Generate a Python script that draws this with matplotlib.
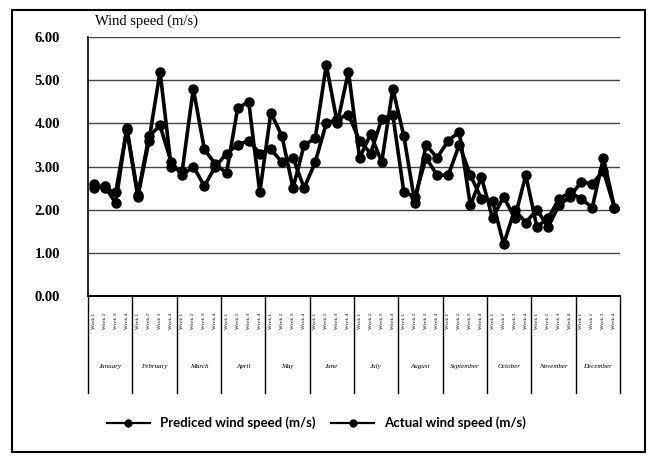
import matplotlib
matplotlib.use("Agg")
import matplotlib.pyplot as plt
import matplotlib.transforms as mtransforms
from matplotlib.patches import Rectangle
from matplotlib.lines import Line2D

months = ["January", "February", "March", "April", "May", "June", "July",
          "August", "September", "October", "November", "December"]
weeks = ["Week 1", "Week 2", "Week 3", "Week 4"]
week_labels = [w for m in months for w in weeks]

predicted = [2.6, 2.5, 2.4, 3.85, 2.3, 3.6, 5.2, 3.0, 2.9, 4.8, 3.4, 3.05,
             2.85, 4.35, 4.5, 2.4, 4.25, 3.7, 2.5, 3.5, 3.65, 5.35, 4.0, 5.2,
             3.2, 3.75, 3.1, 4.8, 3.7, 2.15, 3.5, 3.2, 3.6, 3.8, 2.1, 2.75,
             1.8, 2.3, 1.8, 2.8, 1.6, 1.8, 2.25, 2.4, 2.25, 2.05, 3.2, 2.05]
actual = [2.5, 2.55, 2.15, 3.9, 2.35, 3.7, 3.95, 3.1, 2.8, 3.0, 2.55, 3.0,
          3.3, 3.5, 3.6, 3.3, 3.4, 3.1, 3.2, 2.5, 3.1, 4.0, 4.1, 4.2,
          3.6, 3.3, 4.1, 4.2, 2.4, 2.3, 3.2, 2.8, 2.8, 3.5, 2.8, 2.25,
          2.2, 1.2, 2.0, 1.7, 2.0, 1.6, 2.1, 2.3, 2.65, 2.6, 2.9, 2.05]
yticks = [0, 1, 2, 3, 4, 5, 6]
series_names = ["Prediced wind speed (m/s)", "Actual wind speed (m/s)"]

W, H = 653, 457
fig = plt.figure(figsize=(W / 100, H / 100), dpi=100)
ax = fig.add_axes([88 / W, 1 - 296 / H, (620 - 88) / W, (296 - 37) / H])

x = list(range(len(week_labels)))
ax.plot(x, predicted, color="black", lw=2.6, marker="o", ms=6.5, zorder=4)
ax.plot(x, actual, color="black", lw=2.6, marker="o", ms=6.5, zorder=3)

ax.set_xlim(-0.5, len(week_labels) - 0.5)
ax.set_ylim(0, 6)
ax.set_yticks(yticks)
ax.set_yticklabels([f"{v:.2f}" for v in yticks],
                   family="Liberation Serif", fontweight="bold", fontsize=10.5)
ax.tick_params(axis="y", length=0, pad=20)
ax.grid(axis="y", color="#444444", lw=1)
ax.set_axisbelow(True)
for s in ["top", "right"]:
    ax.spines[s].set_visible(False)
ax.spines["left"].set_linewidth(1.2)
ax.spines["bottom"].set_linewidth(1.4)

ax.set_xticks(x)
ax.set_xticklabels(week_labels, rotation=90, fontsize=3.8,
                   family="Liberation Serif")
ax.tick_params(axis="x", length=0, pad=12)

trans = mtransforms.blended_transform_factory(ax.transData, ax.transAxes)
for k in range(len(months) + 1):
    xs = 4 * k - 0.5
    ax.plot([xs, xs], [0, -0.375], transform=trans, clip_on=False,
            color="black", lw=1)
for k, m in enumerate(months):
    ax.text(4 * k + 1.5, -0.274, m, transform=trans, ha="center",
            va="center", fontsize=5, family="Liberation Serif",
            style="italic")

fig.text(95 / W, 1 - 21 / H, "Wind speed (m/s)", family="Liberation Serif",
         fontsize=10.5, va="center", ha="left")

handles = [Line2D([], [], color="black", lw=1.6, marker="o", ms=5)
           for _ in series_names]
fig.legend(handles, series_names, loc="center",
           bbox_to_anchor=(0.485, 1 - 423 / H), ncol=2,
           frameon=False, handlelength=3.2, columnspacing=1.2,
           prop={"family": "Lato", "size": 9.5, "weight": "bold"})

fig.patches.append(Rectangle((12 / W, 1 - 452 / H), (645 - 12) / W,
                             (452 - 10) / H, transform=fig.transFigure,
                             fill=False, lw=1.5, color="black"))

fig.savefig("out.png", dpi=100)
